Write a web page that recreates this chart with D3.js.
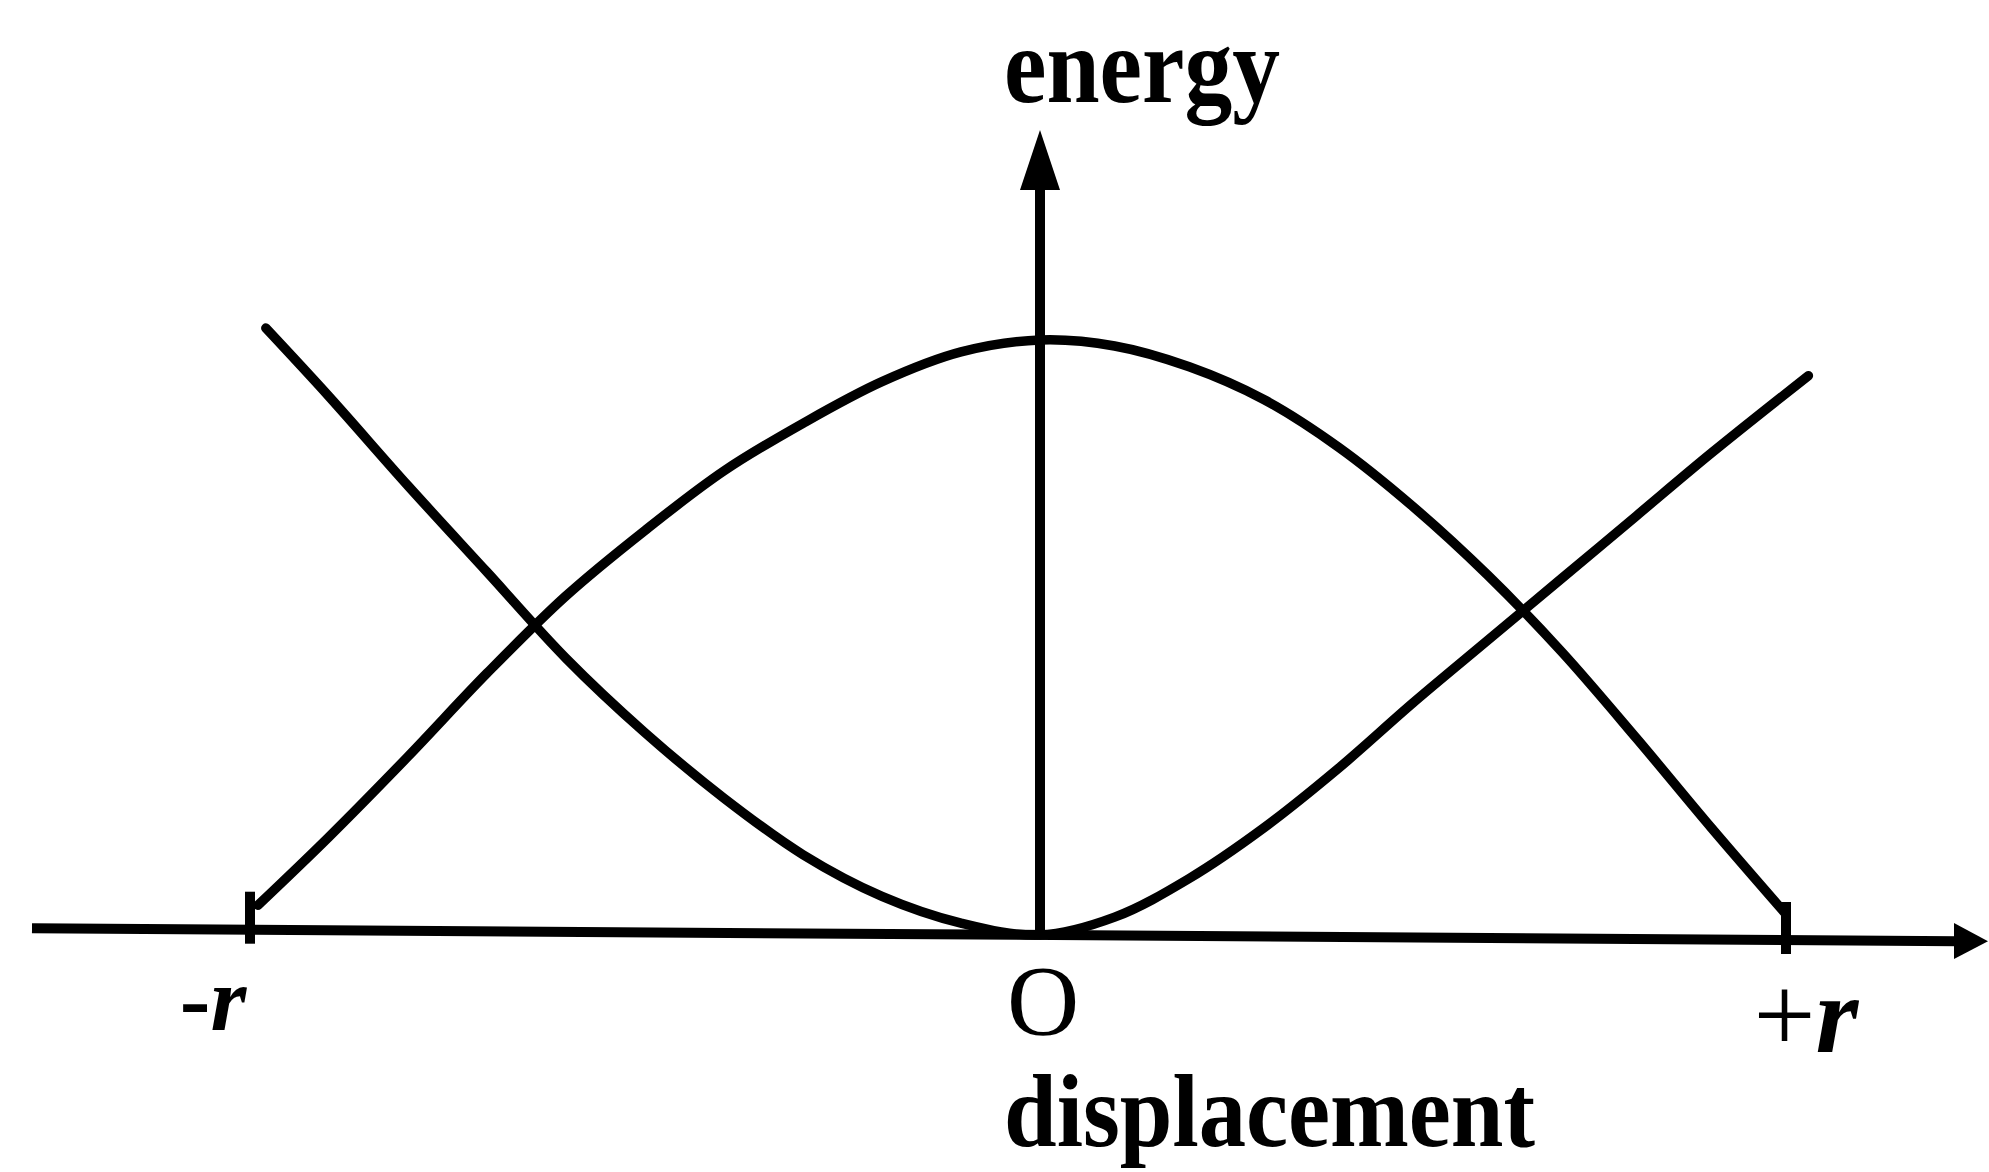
<!DOCTYPE html>
<html>
<head>
<meta charset="utf-8">
<script src="https://cdn.jsdelivr.net/npm/d3@7"></script>
<style>
  body { margin: 0; background: #fff; }
  #chart { width: 1989px; height: 1172px; }
  .curve { fill: none; stroke: #000; stroke-width: 9.5; stroke-linecap: round; stroke-linejoin: round; }
  .axis-line { stroke: #000; stroke-width: 10; }
  .tick { stroke: #000; stroke-width: 10; }
  text { font-family: "Liberation Serif", "Times New Roman", serif; fill: #000; }
</style>
</head>
<body>
<div id="chart"></div>
<script>

// displacement is in units of r, energy relative to the kinetic energy at O
var keDisp   = [-0.99, -0.90, -0.80, -0.70, -0.60, -0.50, -0.40, -0.30, -0.20, -0.10, 0, 0.10, 0.20, 0.30, 0.40, 0.50, 0.60, 0.70, 0.80, 0.90, 1.00];
var keEnergy = [0.05, 0.165, 0.30, 0.44, 0.57, 0.68, 0.78, 0.86, 0.93, 0.98, 1.00, 0.99, 0.955, 0.90, 0.82, 0.72, 0.605, 0.475, 0.33, 0.18, 0.035];

var peDisp   = [-0.98, -0.90, -0.80, -0.70, -0.60, -0.50, -0.40, -0.30, -0.20, -0.10, 0, 0.10, 0.20, 0.30, 0.40, 0.50, 0.60, 0.70, 0.80, 0.90, 1.03];
var peEnergy = [1.02, 0.905, 0.755, 0.61, 0.465, 0.34, 0.23, 0.135, 0.065, 0.02, 0, 0.03, 0.095, 0.18, 0.28, 0.39, 0.495, 0.60, 0.705, 0.81, 0.94];

var tickValues = [-1, 0, 1];
var tickLabels = ["-r", "O", "+r"];

var xTitle = "displacement";
var yTitle = "energy";


EnergyChart = function(_parentElement){
  this.parentElement = _parentElement;
  this.initVis();
}

EnergyChart.prototype.initVis = function(){
  var vis = this;

  vis.width = 1989;
  vis.height = 1172;

  vis.svg = d3.select("#" + vis.parentElement).append("svg")
      .attr("width", vis.width)
      .attr("height", vis.height);

  // O is not quite in the middle of -r and +r in the drawing
  vis.x = d3.scaleLinear()
      .domain([-1, 0, 1])
      .range([250, 1040, 1786]);

  vis.y = d3.scaleLinear()
      .domain([0, 1])
      .range([935, 340]);

  vis.line = d3.line()
      .x(function(d) { return vis.x(d.d); })
      .y(function(d) { return vis.y(d.e); })
      .curve(d3.curveCatmullRom.alpha(0.5));

  vis.updateVis();
}

EnergyChart.prototype.updateVis = function(){
  var vis = this;

  var y0 = vis.y(0);
  var tilt = 0.0067; // the scanned axis runs a little downhill

  // x axis with arrow
  var xStart = 32, xEnd = 1958;
  var axisY = function(px) { return y0 + (px - vis.x(0)) * tilt; };
  vis.svg.append("line")
      .attr("class", "axis-line")
      .attr("x1", xStart).attr("y1", axisY(xStart))
      .attr("x2", xEnd).attr("y2", axisY(xEnd));
  vis.svg.append("path")
      .attr("d", "M" + 1988 + "," + axisY(1988) +
                 "L" + 1954 + "," + (axisY(1954) - 18) +
                 "L" + 1954 + "," + (axisY(1954) + 18) + "Z")
      .attr("fill", "#000");

  // y axis with arrow
  var yx = vis.x(0);
  vis.svg.append("line")
      .attr("class", "axis-line")
      .attr("x1", yx).attr("y1", y0 + 2)
      .attr("x2", yx).attr("y2", 180);
  vis.svg.append("path")
      .attr("d", "M" + yx + ",130L" + (yx - 20) + ",190L" + (yx + 20) + ",190Z")
      .attr("fill", "#000");

  // ticks at -r and +r
  vis.svg.selectAll(".tick")
      .data(tickValues.filter(function(v) { return v !== 0; }))
      .enter()
      .append("line")
      .attr("class", "tick")
      .attr("x1", function(d) { return vis.x(d); })
      .attr("x2", function(d) { return vis.x(d); })
      .attr("y1", function(d) { return axisY(vis.x(d)) - 38; })
      .attr("y2", function(d) { return axisY(vis.x(d)) + 14; });

  // curves
  var ke = keDisp.map(function(d, i) { return {d: d, e: keEnergy[i]}; });
  var pe = peDisp.map(function(d, i) { return {d: d, e: peEnergy[i]}; });

  vis.svg.selectAll(".curve")
      .data([ke, pe])
      .enter()
      .append("path")
      .attr("class", "curve")
      .attr("d", vis.line);

  // tick labels
  var baselines = [1030, 1034, 1052];
  var labels = vis.svg.selectAll(".tick-label")
      .data(tickLabels)
      .enter()
      .append("text")
      .attr("class", "tick-label")
      .attr("text-anchor", "middle")
      .attr("x", function(d, i) { return vis.x(tickValues[i]) + (i === 1 ? 3 : (i === 0 ? -37 : 20)); })
      .attr("y", function(d, i) { return baselines[i]; });

  labels.each(function(d) {
    var t = d3.select(this);
    if (d === "O") {
      t.attr("font-size", 100).text(d);
    } else {
      var size = d[0] === "+" ? 110 : 92;
      t.append("tspan")
          .attr("font-size", size)
          .attr("font-weight", d[0] === "-" ? "bold" : "normal")
          .text(d[0]);
      t.append("tspan")
          .attr("font-size", size)
          .attr("font-style", "italic")
          .attr("font-weight", "bold")
          .text(d.slice(1));
    }
  });

  // axis titles
  vis.svg.append("text")
      .attr("x", 1004)
      .attr("y", 102)
      .attr("font-size", 108)
      .attr("font-weight", "bold")
      .attr("textLength", 276)
      .attr("lengthAdjust", "spacingAndGlyphs")
      .text(yTitle);

  vis.svg.append("text")
      .attr("x", 1004)
      .attr("y", 1146)
      .attr("font-size", 104)
      .attr("font-weight", "bold")
      .attr("textLength", 531)
      .attr("lengthAdjust", "spacingAndGlyphs")
      .text(xTitle);
}

var chart = new EnergyChart("chart");

</script>
</body>
</html>
